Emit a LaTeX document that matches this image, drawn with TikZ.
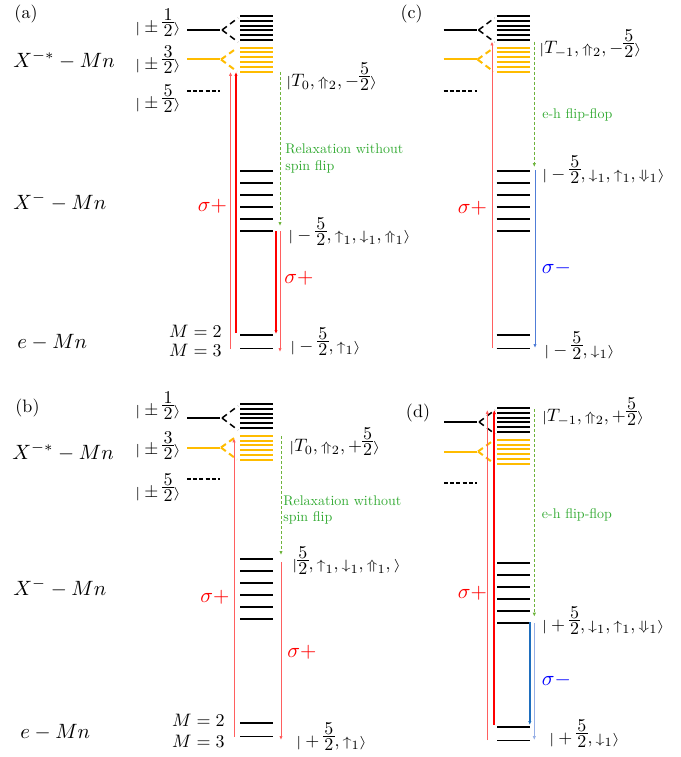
\documentclass[tikz,border=0pt]{standalone}
\usepackage{amsmath}
\usepackage{graphicx}
\usetikzlibrary{arrows.meta}
\definecolor{orL}{RGB}{255,188,0}
\definecolor{redT}{RGB}{255,95,95}
\definecolor{grD}{RGB}{110,180,60}
\definecolor{grT}{RGB}{50,170,50}
\definecolor{blT}{RGB}{80,125,215}
\definecolor{blL}{RGB}{150,175,230}
\definecolor{blK}{RGB}{30,110,190}
\newcommand{\kf}[2]{\lower2.5pt\vbox{\offinterlineskip\halign{\hfil\kern0.6pt$##$\kern0.6pt\hfil\cr#1\cr\noalign{\kern1pt\hrule height0.4pt\kern1.2pt}#2\cr}}}
\newcommand{\sq}[1]{\scalebox{1}[0.75]{$#1$}}
\newcommand{\vb}{\mathord{\sq{|}}}
\newcommand{\ra}{\mathclose{\sq{\rangle}}}
\newcommand{\ua}{\mathord{\sq{\uparrow}}}
\newcommand{\da}{\mathord{\sq{\downarrow}}}
\newcommand{\Ua}{\mathord{\sq{\Uparrow}}}
\newcommand{\Da}{\mathord{\sq{\Downarrow}}}
\newcommand{\drawlevels}{%
  \draw[lvlL] (187,30) -- (220,30);
  \draw[lvlL,splitd] (222,30) -- (238,18);
  \draw[lvlL,splitd] (222,30) -- (238,42);
  \draw[lvlO] (187,59.5) -- (220,59.5);
  \draw[lvlO,splitd] (221,59.5) -- (237,48);
  \draw[lvlO,splitd] (221,59.5) -- (237,71.5);
  \draw[lvlL,dash pattern=on 4pt off 2.2pt] (187,91) -- (220,91);
  \foreach \k in {0,...,5} \draw[lvlT] (240,{16+4.8*\k}) -- (273,{16+4.8*\k});
  \foreach \k in {0,...,5} \draw[lvlT,orL] (240,{47.7+4.8*\k}) -- (273,{47.7+4.8*\k});
  \foreach \k in {0,...,5} \draw[lvl] (240,{170.7+12*\k}) -- (273,{170.7+12*\k});
  \draw[lvl] (240,335) -- (273,335);
  \draw[lvl] (240,348.5) -- (273,348.5);
}
\begin{document}
\begin{tikzpicture}[x=1pt,y=-1pt,
  lvl/.style={line width=1.8pt},
  lvlT/.style={line width=2pt},
  lvlL/.style={line width=1.5pt},
  lvlO/.style={line width=2pt,orL},
  splitd/.style={dash pattern=on 6pt off 4pt},
  tip/.style={-{Latex[length=4pt,width=3.4pt]}},
  redthin/.style={tip,draw=redT,line width=0.9pt},
  redthick/.style={tip,draw=red,line width=1.8pt},
  greend/.style={tip,draw=grD,line width=0.8pt,dash pattern=on 3pt off 2pt},
  bluethin/.style={tip,draw=blT,line width=0.9pt},
  bluethin2/.style={tip,draw=blL,line width=1.1pt},
  bluethick/.style={tip,draw=blK,line width=1.8pt},
  big/.style={scale=2.07,inner sep=0pt},
  ket/.style={scale=1.8,inner sep=0pt},
  sig/.style={scale=2.1,inner sep=0pt},
  grtxt/.style={scale=1.4,text=grT,inner sep=0pt,align=left},
  plab/.style={scale=1.8,inner sep=0pt}
]
\useasboundingbox (0,0) rectangle (680,757);

% ---------- panel (a)
\begin{scope}
\drawlevels
\draw[redthin] (230.5,349) coordinate (a1s) -- (230.5,72) coordinate (a1e);
\draw[redthick] (236,333) coordinate (a2s) -- (236,72) coordinate (a2e);
\draw[greend] (280,72) coordinate (a3s) -- (280,226) coordinate (a3e);
\draw[redthick] (276,231) coordinate (a4s) -- (276,334) coordinate (a4e);
\draw[redthin] (280,231) coordinate (a5s) -- (280,352) coordinate (a5e);
\end{scope}
\node[plab] (pa) at (26,14) {(a)};
\node[ket,anchor=east] (a-k1) at (181,23) {$\vb\pm\kf{1}{2}\ra$};
\node[ket,anchor=east] (a-k3) at (181,60) {$\vb\pm\kf{3}{2}\ra$};
\node[ket,anchor=east] (a-k5) at (181,99) {$\vb\pm\kf{5}{2}\ra$};
\node[big,anchor=west] (a-x1) at (13,60) {$X^{-*}-Mn$};
\node[big,anchor=west] (a-x2) at (13,202) {$X^{-}-Mn$};
\node[big,anchor=west] (a-x3) at (17,342) {$e-Mn$};
\node[sig,text=red] (a-s1) at (212.5,206) {$\sigma+$};
\node[ket,anchor=west] (a-t) at (286,77) {$\vb T_0,\Ua_2,-\kf{5}{2}\ra$};
\node[grtxt,anchor=north west] (a-g) at (285,144) {Relaxation without\\spin flip};
\node[ket,anchor=west] (a-m) at (288,231.5) {$\vb-\kf{5}{2},\ua_1,\da_1,\Ua_1\ra$};
\node[sig,text=red] (a-s2) at (299,278) {$\sigma+$};
\node[ket,anchor=east] (a-M2) at (222,331.5) {$M=2$};
\node[ket,anchor=east] (a-M3) at (222,350) {$M=3$};
\node[ket,anchor=west] (a-b) at (290,342) {$\vb-\kf{5}{2},\ua_1\ra$};

% ---------- panel (b)
\begin{scope}[shift={(0,388)}]
\drawlevels
\draw[redthin] (234,348.7) coordinate (b1s) -- (234,50.3) coordinate (b1e);
\draw[greend] (281,48) coordinate (b2s) -- (281,167) coordinate (b2e);
\draw[redthin] (281,174) coordinate (b3s) -- (281,352) coordinate (b3e);
\end{scope}
\node[plab] (pb) at (27.5,408) {(b)};
\node[ket,anchor=east] (b-k1) at (181,406) {$\vb\pm\kf{1}{2}\ra$};
\node[ket,anchor=east] (b-k3) at (181,445.5) {$\vb\pm\kf{3}{2}\ra$};
\node[ket,anchor=east] (b-k5) at (181,488) {$\vb\pm\kf{5}{2}\ra$};
\node[big,anchor=west] (b-x1) at (12,452) {$X^{-*}-Mn$};
\node[big,anchor=west] (b-x2) at (13,588) {$X^{-}-Mn$};
\node[big,anchor=west] (b-x3) at (20,732) {$e-Mn$};
\node[ket,anchor=west] (b-t) at (289,442) {$\vb T_0,\Ua_2,+\kf{5}{2}\ra$};
\node[grtxt,anchor=north west] (b-g) at (283,495) {Relaxation without\\spin flip};
\node[ket,anchor=west] (b-m) at (292,560.5) {$\vb\kf{5}{2},\ua_1,\da_1,\Ua_1,\ra$};
\node[sig,text=red] (b-s1) at (215,597) {$\sigma+$};
\node[sig,text=red] (b-s2) at (302,652) {$\sigma+$};
\node[ket,anchor=east] (b-M2) at (225,720) {$M=2$};
\node[ket,anchor=east] (b-M3) at (225,741) {$M=3$};
\node[ket,anchor=west] (b-b) at (296,737) {$\vb+\kf{5}{2},\ua_1\ra$};

% ---------- panel (c)
\begin{scope}[shift={(256.5,0)}]
\drawlevels
\draw[redthin] (235.5,348) coordinate (c1s) -- (235.5,41.5) coordinate (c1e);
\draw[greend] (277.8,41.7) coordinate (c2s) -- (277.8,167) coordinate (c2e);
\draw[bluethin] (278.5,170) coordinate (c3s) -- (278.5,348) coordinate (c3e);
\end{scope}
\node[plab] (pc) at (411.5,14) {(c)};
\node[ket,anchor=west] (c-t) at (539,44) {$\vb T_{-1},\Ua_2,-\kf{5}{2}\ra$};
\node[grtxt,anchor=west] (c-g) at (542,115) {e-h flip-flop};
\node[ket,anchor=west] (c-m) at (542,170) {$\vb-\kf{5}{2},\da_1,\ua_1,\Da_1\ra$};
\node[sig,text=red] (c-s1) at (472.5,208) {$\sigma+$};
\node[sig,text=blue] (c-s2) at (556.5,268) {$\sigma-$};
\node[ket,anchor=west] (c-b) at (544,346) {$\vb-\kf{5}{2},\da_1\ra$};

% ---------- panel (d)
\begin{scope}[shift={(257,392)}]
\drawlevels
\draw[redthin] (230.3,348) coordinate (d1s) -- (230.3,18) coordinate (d1e);
\draw[redthick] (237.3,333) coordinate (d2s) -- (237.3,18) coordinate (d2e);
\draw[greend] (277.3,17) coordinate (d3s) -- (277.3,224.7) coordinate (d3e);
\draw[bluethick] (272.8,230) coordinate (d4s) -- (272.8,333) coordinate (d4e);
\draw[bluethin2] (277.3,231) coordinate (d5s) -- (277.3,348) coordinate (d5e);
\end{scope}
\node[plab] (pd) at (418,413) {(d)};
\node[ket,anchor=west] (d-t) at (541.7,412) {$\vb T_{-1},\Ua_2,+\kf{5}{2}\ra$};
\node[grtxt,anchor=west] (d-g) at (541.7,515) {e-h flip-flop};
\node[ket,anchor=west] (d-m) at (541.7,621) {$\vb+\kf{5}{2},\da_1,\ua_1,\Da_1\ra$};
\node[sig,text=red] (d-s1) at (472.5,593) {$\sigma+$};
\node[sig,text=blue] (d-s2) at (556.3,680) {$\sigma-$};
\node[ket,anchor=west] (d-b) at (549,734) {$\vb+\kf{5}{2},\da_1\ra$};
\end{tikzpicture}
\end{document}
